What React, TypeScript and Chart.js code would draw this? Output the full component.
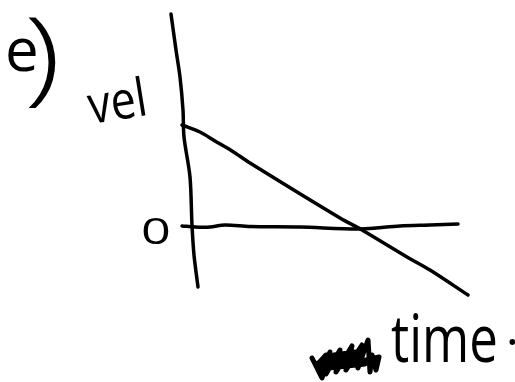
import React, { useEffect, useRef } from "react";
import { Chart, registerables } from "chart.js";

Chart.register(...registerables);

// x = time, y = velocity, origin where the axes cross.
const velocityAxisTime = [-19, -14, -10, -7, -6, 0, 2, 4, 8];
const velocityAxisVel = [213, 177, 150, 117, 90, 50, 2, -28, -60];
const zeroLineTime = [-8, 5, 20, 35, 60, 110, 170, 210, 240, 268];
const zeroLineVel = [1, 0, 0, 2, 0.5, 0, -2, 1, 2, 3];
const velocityTime = [-8, 10, 25, 42, 60, 150, 172, 217, 240, 278];
const velocityVel = [102, 95, 86, 76, 64, 9, -3, -30, -43, -68];
const scribbleTime = [122, 132, 140, 136, 150, 146, 162, 156, 172, 168, 178, 180, 182, 186, 189, 176, 150, 126, 136, 160, 175, 130, 144, 166, 128, 155, 172];
const scribbleVel = [-131, -151, -125, -147, -123, -145, -119, -143, -118, -141, -113, -145, -128, -143, -130, -133, -135, -139, -128, -130, -137, -142, -128, -125, -136, -138, -130];

const annotationText = ["e", ")", "vel", "0", "time", "."];
const annotationTime = [-185, -166, -99, -49, 201, 316];
const annotationVel = [156, 135, 103, -17, -135, -118];
const annotationSize = [60, 104, 44, 36, 50, 48];
const annotationWeight = [400, 300, 400, 400, 400, 400];
const annotationRotation = [0, 0, -0.16, 0, 0, 0];
const annotationStretchX = [1, 1.3, 1.02, 1.45, 1.02, 1];
const annotationStretchY = [1, 1, 1.2, 1, 1.3, 1];

const strokeColor = "#000000";

const textPlugin = {
  id: "handText",
  afterDatasetsDraw(chart: any) {
    const { ctx, scales } = chart;
    annotationText.forEach((text, i) => {
      ctx.save();
      ctx.translate(scales.x.getPixelForValue(annotationTime[i]), scales.y.getPixelForValue(annotationVel[i]));
      ctx.rotate(annotationRotation[i]);
      ctx.scale(annotationStretchX[i], annotationStretchY[i]);
      ctx.font = `${annotationWeight[i]} ${annotationSize[i]}px "Open Sans", sans-serif`;
      ctx.fillStyle = strokeColor;
      ctx.textAlign = "left";
      ctx.textBaseline = "alphabetic";
      ctx.fillText(text, 0, 0);
      ctx.restore();
    });
  },
};

function pairs(xs: number[], ys: number[]) {
  return xs.map((x, i) => ({ x, y: ys[i] }));
}

export default function App() {
  const ref = useRef<HTMLCanvasElement>(null);
  useEffect(() => {
    document.body.style.margin = "0";
    document.body.style.background = "#ffffff";
    const line = (label: string, xs: number[], ys: number[], width: number) => ({
      label,
      data: pairs(xs, ys),
      showLine: true,
      borderColor: strokeColor,
      borderWidth: width,
      pointRadius: 0,
      tension: 0.3,
      borderCapStyle: "round" as const,
      borderJoinStyle: "round" as const,
    });
    const chart = new Chart(ref.current!, {
      type: "scatter",
      data: {
        datasets: [
          line("axis", velocityAxisTime, velocityAxisVel, 3.5),
          line("zero", zeroLineTime, zeroLineVel, 3.5),
          line("velocity", velocityTime, velocityVel, 3.5),
          { ...line("scribble", scribbleTime, scribbleVel, 5), tension: 0 },
        ],
      },
      options: {
        animation: false,
        responsive: false,
        layout: { padding: 0 },
        plugins: { legend: { display: false }, tooltip: { enabled: false } },
        scales: {
          x: { type: "linear", display: false, min: -190, max: 325 },
          y: { type: "linear", display: false, min: -155, max: 227 },
        },
      },
      plugins: [textPlugin],
    });
    return () => chart.destroy();
  }, []);
  return <canvas ref={ref} width={515} height={382} style={{ display: "block" }} />;
}
